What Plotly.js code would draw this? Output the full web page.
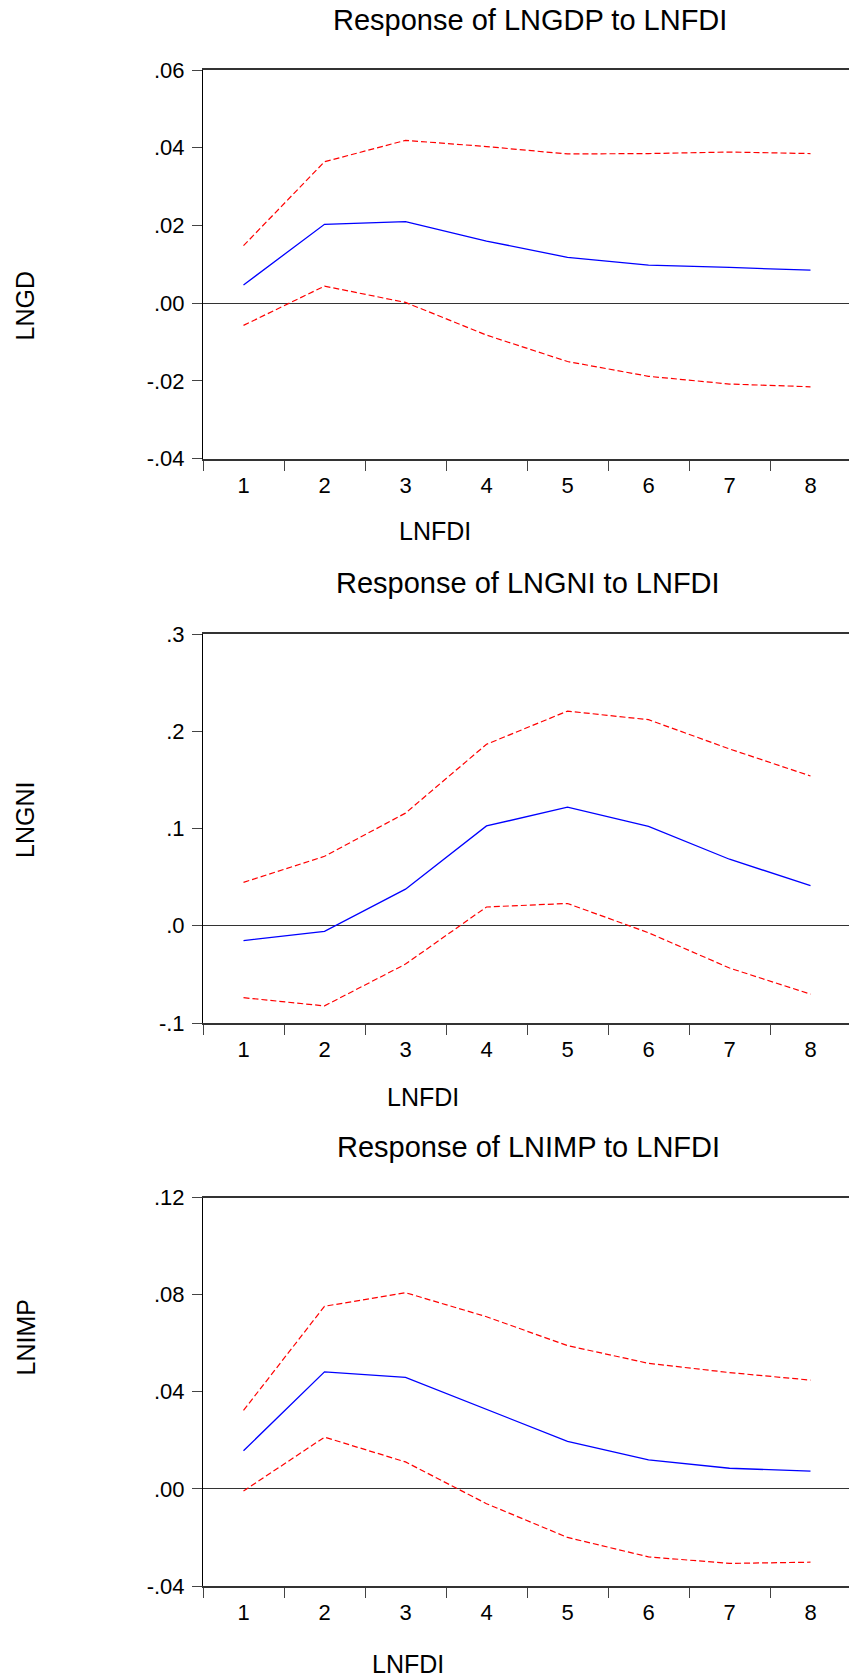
<!DOCTYPE html>
<html>
<head>
<meta charset="utf-8">
<script src="https://cdn.plot.ly/plotly-3.0.1.min.js"></script>
<style>html,body{margin:0;padding:0;background:#fff;}#chart{width:849px;height:1680px;}</style>
</head>
<body>
<div id="chart"></div>
<script>
// Periods
const periods = [1, 2, 3, 4, 5, 6, 7, 8];

// Response of LNGDP to LNFDI
const gdpResp  = [0.0047, 0.0203, 0.0210, 0.0160, 0.0118, 0.0098, 0.0092, 0.0085];
const gdpUpper = [0.0148, 0.0364, 0.0419, 0.0403, 0.0384, 0.0385, 0.0389, 0.0385];
const gdpLower = [-0.0057, 0.0044, 0.0002, -0.0082, -0.0150, -0.0188, -0.0208, -0.0215];

// Response of LNGNI to LNFDI
const gniResp  = [-0.0152, -0.0057, 0.0376, 0.1026, 0.1220, 0.1022, 0.0684, 0.0413];
const gniUpper = [0.0446, 0.0714, 0.1158, 0.1866, 0.2207, 0.2119, 0.1818, 0.1540];
const gniLower = [-0.0740, -0.0824, -0.0394, 0.0193, 0.0229, -0.0072, -0.0435, -0.0703];

// Response of LNIMP to LNFDI
const impResp  = [0.0157, 0.0482, 0.0459, 0.0326, 0.0196, 0.0119, 0.0085, 0.0073];
const impUpper = [0.0323, 0.0752, 0.0808, 0.0709, 0.0590, 0.0517, 0.0479, 0.0448];
const impLower = [-0.0009, 0.0213, 0.0111, -0.0061, -0.0200, -0.0280, -0.0307, -0.0302];

// Tick values / labels
const gdpTickVals = [0.06, 0.04, 0.02, 0.00, -0.02, -0.04];
const gdpTickText = [".06", ".04", ".02", ".00", "-.02", "-.04"];
const gniTickVals = [0.3, 0.2, 0.1, 0.0, -0.1];
const gniTickText = [".3", ".2", ".1", ".0", "-.1"];
const impTickVals = [0.12, 0.08, 0.04, 0.00, -0.04];
const impTickText = [".12", ".08", ".04", ".00", "-.04"];
const xTickText = ["1", "2", "3", "4", "5", "6", "7", "8"];

const titles = ["Response of LNGDP to LNFDI", "Response of LNGNI to LNFDI", "Response of LNIMP to LNFDI"];
const yTitles = ["LNGD", "LNGNI", "LNIMP"];
const xTitle = "LNFDI";

const FONT = '"Liberation Sans", Arial, Helvetica, sans-serif';
const W = 849, H = 1680, L = 203;
const plotW = W - L;
const unitPx = 81;

const panels = [
  {resp: gdpResp, up: gdpUpper, lo: gdpLower, tv: gdpTickVals, tt: gdpTickText, top: 70, bot: 458.7,
   title: [530, 20], ytitle: [24.5, 306], xtitle: [435, 531]},
  {resp: gniResp, up: gniUpper, lo: gniLower, tv: gniTickVals, tt: gniTickText, top: 634, bot: 1023,
   title: [528, 583], ytitle: [25, 820], xtitle: [423, 1097]},
  {resp: impResp, up: impUpper, lo: impLower, tv: impTickVals, tt: impTickText, top: 1197.5, bot: 1586,
   title: [528, 1147], ytitle: [25.5, 1338], xtitle: [408, 1664]}
];

const px = X => (X - L) / plotW;
const py = Y => 1 - Y / H;

const traces = [];
const layout = {
  width: W, height: H,
  margin: {l: L, r: 0, t: 0, b: 0, pad: 0},
  paper_bgcolor: '#ffffff', plot_bgcolor: '#ffffff',
  showlegend: false,
  font: {family: FONT, color: '#000'},
  annotations: []
};

const xRange = [periods[0] - 0.5, periods[0] - 0.5 + plotW / unitPx];
const boundaries = periods.map(p => p - 0.5);

panels.forEach((p, i) => {
  const n = i + 1;
  const xa = n === 1 ? 'x' : 'x' + n;
  const ya = n === 1 ? 'y' : 'y' + n;
  const xk = n === 1 ? 'xaxis' : 'xaxis' + n;
  const yk = n === 1 ? 'yaxis' : 'yaxis' + n;
  const vmax = p.tv[0], vmin = p.tv[p.tv.length - 1];

  traces.push({x: periods, y: p.up, xaxis: xa, yaxis: ya, mode: 'lines', hoverinfo: 'skip',
    line: {color: '#ff0000', width: 1.2, dash: '6px,3px'}});
  traces.push({x: periods, y: p.lo, xaxis: xa, yaxis: ya, mode: 'lines', hoverinfo: 'skip',
    line: {color: '#ff0000', width: 1.2, dash: '6px,3px'}});
  traces.push({x: periods, y: p.resp, xaxis: xa, yaxis: ya, mode: 'lines', hoverinfo: 'skip',
    line: {color: '#0000ff', width: 1.3}});

  layout[xk] = {
    domain: [0, 1], anchor: ya, range: xRange, fixedrange: true,
    showgrid: false, zeroline: false,
    showline: true, linecolor: '#333', linewidth: 2, mirror: true,
    tickmode: 'array', tickvals: periods, ticktext: xTickText,
    ticks: 'outside', ticklen: 0, tickcolor: 'rgba(0,0,0,0)',
    tickfont: {family: FONT, size: 22, color: '#000'},
    ticklabelstandoff: 6,
    minor: {tickmode: 'array', tickvals: boundaries, ticks: 'outside', ticklen: 10, tickwidth: 1, tickcolor: '#444', showgrid: false}
  };
  layout[yk] = {
    domain: [py(p.bot), py(p.top)], anchor: xa, range: [vmin, vmax], fixedrange: true,
    showgrid: false,
    zeroline: true, zerolinecolor: '#333', zerolinewidth: 1,
    showline: true, linecolor: '#000', linewidth: 1, mirror: false,
    tickmode: 'array', tickvals: p.tv, ticktext: p.tt,
    ticks: 'outside', ticklen: 10, tickwidth: 1, tickcolor: '#444',
    ticklabelstandoff: 3,
    tickfont: {family: FONT, size: 22, color: '#000'}
  };

  layout.annotations.push({text: titles[i], xref: 'paper', yref: 'paper', x: px(p.title[0]), y: py(p.title[1]),
    xanchor: 'center', yanchor: 'middle', showarrow: false, font: {family: FONT, size: 29, color: '#000'}});
  layout.annotations.push({text: yTitles[i], xref: 'paper', yref: 'paper', x: px(p.ytitle[0]), y: py(p.ytitle[1]),
    xanchor: 'center', yanchor: 'middle', textangle: -90, showarrow: false, font: {family: FONT, size: 25, color: '#000'}});
  layout.annotations.push({text: xTitle, xref: 'paper', yref: 'paper', x: px(p.xtitle[0]), y: py(p.xtitle[1]),
    xanchor: 'center', yanchor: 'middle', showarrow: false, font: {family: FONT, size: 25, color: '#000'}});
});

Plotly.newPlot('chart', traces, layout, {staticPlot: true, displayModeBar: false});
</script>
</body>
</html>
